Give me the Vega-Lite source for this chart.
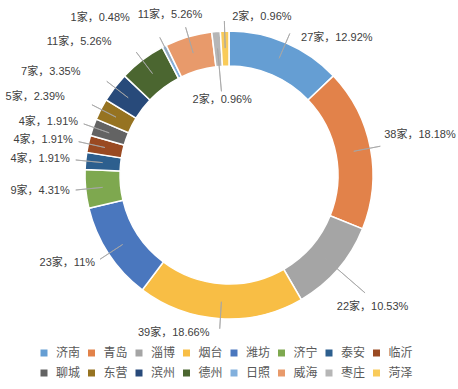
{
  "$schema": "https://vega.github.io/schema/vega-lite/v6.json",
  "width": 458,
  "height": 350,
  "padding": 0,
  "autosize": {"type": "pad"},
  "background": "white",
  "data": {"values": [
    {"order": 1, "city": "济南", "count": 27, "label": "27家，12.92%"},
    {"order": 2, "city": "青岛", "count": 38, "label": "38家，18.18%"},
    {"order": 3, "city": "淄博", "count": 22, "label": "22家，10.53%"},
    {"order": 4, "city": "烟台", "count": 39, "label": "39家，18.66%"},
    {"order": 5, "city": "潍坊", "count": 23, "label": "23家，11%"},
    {"order": 6, "city": "济宁", "count": 9, "label": "9家，4.31%"},
    {"order": 7, "city": "泰安", "count": 4, "label": "4家，1.91%"},
    {"order": 8, "city": "临沂", "count": 4, "label": "4家，1.91%"},
    {"order": 9, "city": "聊城", "count": 4, "label": "4家，1.91%"},
    {"order": 10, "city": "东营", "count": 5, "label": "5家，2.39%"},
    {"order": 11, "city": "滨州", "count": 7, "label": "7家，3.35%"},
    {"order": 12, "city": "德州", "count": 11, "label": "11家，5.26%"},
    {"order": 13, "city": "日照", "count": 1, "label": "1家，0.48%"},
    {"order": 14, "city": "威海", "count": 11, "label": "11家，5.26%"},
    {"order": 15, "city": "枣庄", "count": 2, "label": "2家，0.96%"},
    {"order": 16, "city": "菏泽", "count": 2, "label": "2家，0.96%"}
  ]},
  "transform": [
    {"window": [{"op": "sum", "field": "count", "as": "cum"}], "sort": [{"field": "order"}], "frame": [null, 0]},
    {"calculate": "datum.cum - datum.count / 2", "as": "mid"}
  ],
  "layer": [
    {
      "mark": {"type": "arc", "outerRadius": 144, "innerRadius": 109, "stroke": "white", "strokeWidth": 1.5},
      "encoding": {
        "theta": {"field": "count", "type": "quantitative", "stack": true},
        "order": {"field": "order", "type": "quantitative"},
        "color": {
          "field": "city",
          "type": "nominal",
          "scale": {
            "domain": ["济南", "青岛", "淄博", "烟台", "潍坊", "济宁", "泰安", "临沂", "聊城", "东营", "滨州", "德州", "日照", "威海", "枣庄", "菏泽"],
            "range": ["#659ED3", "#E2824A", "#A5A5A5", "#F8BE45", "#4A77BE", "#7EA84F", "#2D5F8E", "#9A4A22", "#636363", "#967321", "#284A7A", "#4B6630", "#82B0DD", "#E89A6B", "#B6B6B6", "#F9CB5A"]
          },
          "legend": {
            "title": null,
            "orient": "none",
            "legendX": 38,
            "legendY": 347,
            "direction": "horizontal",
            "columns": 8,
            "symbolType": "square",
            "symbolSize": 49,
            "symbolStrokeWidth": 0,
            "labelFontSize": 12,
            "labelColor": "#595959",
            "labelFont": "Liberation Sans, Noto Sans CJK SC",
            "labelOffset": 6,
            "columnPadding": 4.5,
            "rowPadding": 8
          }
        }
      }
    },
    {
      "transform": [{"filter": {"not": {"field": "city", "oneOf": ["枣庄", "淄博"]}}}],
      "mark": {"type": "arc", "outerRadius": 154, "innerRadius": 127, "fill": "transparent", "stroke": "#A6A6A6", "strokeWidth": 0.8},
      "encoding": {
        "theta": {"field": "mid", "type": "quantitative", "stack": false},
        "theta2": {"field": "mid"}
      }
    },
    {
      "transform": [{"filter": {"field": "city", "equal": "淄博"}}],
      "mark": {"type": "arc", "outerRadius": 180, "innerRadius": 127, "fill": "transparent", "stroke": "#A6A6A6", "strokeWidth": 0.8},
      "encoding": {
        "theta": {"field": "mid", "type": "quantitative", "stack": false},
        "theta2": {"field": "mid"}
      }
    },
    {
      "transform": [{"filter": {"field": "city", "equal": "枣庄"}}],
      "mark": {"type": "arc", "outerRadius": 127, "innerRadius": 84, "fill": "transparent", "stroke": "#A6A6A6", "strokeWidth": 0.8},
      "encoding": {
        "theta": {"field": "mid", "type": "quantitative", "stack": false},
        "theta2": {"field": "mid"}
      }
    },
    {
      "transform": [{"filter": {"field": "city", "equal": "济南"}}],
      "mark": {"type": "text", "align": "left", "baseline": "middle", "radius": 152, "dx": 12, "dy": 3},
      "encoding": {"theta": {"field": "mid", "type": "quantitative", "stack": false}, "text": {"field": "label"}}
    },
    {
      "transform": [{"filter": {"field": "city", "equal": "青岛"}}],
      "mark": {"type": "text", "align": "left", "baseline": "middle", "radius": 158, "dy": -10},
      "encoding": {"theta": {"field": "mid", "type": "quantitative", "stack": false}, "text": {"field": "label"}}
    },
    {
      "transform": [{"filter": {"field": "city", "equal": "淄博"}}],
      "mark": {"type": "text", "align": "center", "baseline": "middle", "radius": 190, "dy": 8},
      "encoding": {"theta": {"field": "mid", "type": "quantitative", "stack": false}, "text": {"field": "label"}}
    },
    {
      "transform": [{"filter": {"field": "city", "equal": "烟台"}}],
      "mark": {"type": "text", "align": "right", "baseline": "middle", "radius": 158, "dx": -10},
      "encoding": {"theta": {"field": "mid", "type": "quantitative", "stack": false}, "text": {"field": "label"}}
    },
    {
      "transform": [{"filter": {"field": "city", "oneOf": ["潍坊", "济宁", "泰安", "临沂", "聊城"]}}],
      "mark": {"type": "text", "align": "right", "baseline": "middle", "radius": 160},
      "encoding": {"theta": {"field": "mid", "type": "quantitative", "stack": false}, "text": {"field": "label"}}
    },
    {
      "transform": [{"filter": {"field": "city", "oneOf": ["东营", "滨州", "德州"]}}],
      "mark": {"type": "text", "align": "right", "baseline": "middle", "radius": 162, "dx": -20, "dy": -4},
      "encoding": {"theta": {"field": "mid", "type": "quantitative", "stack": false}, "text": {"field": "label"}}
    },
    {
      "transform": [{"filter": {"field": "city", "equal": "日照"}}],
      "mark": {"type": "text", "align": "right", "baseline": "middle", "radius": 165, "dx": -25, "dy": -10},
      "encoding": {"theta": {"field": "mid", "type": "quantitative", "stack": false}, "text": {"field": "label"}}
    },
    {
      "transform": [{"filter": {"field": "city", "equal": "威海"}}],
      "mark": {"type": "text", "align": "center", "baseline": "middle", "radius": 160, "dx": -14, "dy": -6},
      "encoding": {"theta": {"field": "mid", "type": "quantitative", "stack": false}, "text": {"field": "label"}}
    },
    {
      "transform": [{"filter": {"field": "city", "equal": "枣庄"}}],
      "mark": {"type": "text", "align": "center", "baseline": "middle", "radius": 75},
      "encoding": {"theta": {"field": "mid", "type": "quantitative", "stack": false}, "text": {"field": "label"}}
    },
    {
      "transform": [{"filter": {"field": "city", "equal": "菏泽"}}],
      "mark": {"type": "text", "align": "left", "baseline": "middle", "radius": 158, "dx": 8},
      "encoding": {"theta": {"field": "mid", "type": "quantitative", "stack": false}, "text": {"field": "label"}}
    }
  ],
  "config": {
    "view": {"stroke": null},
    "text": {"font": "Liberation Sans, Noto Sans CJK SC", "fontSize": 11, "color": "#404040"}
  }
}
